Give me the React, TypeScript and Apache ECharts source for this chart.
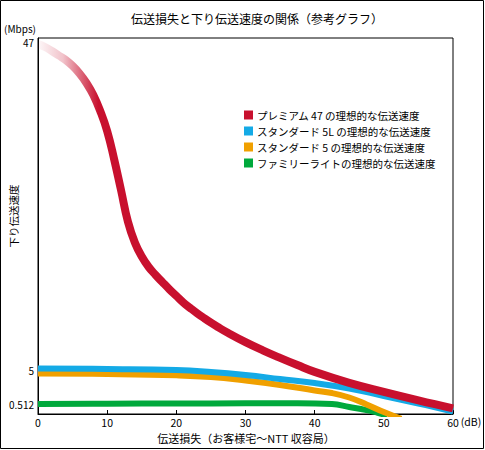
import React, { useEffect, useRef } from "react";
import * as echarts from "echarts";

// ---- data (x: 伝送損失 dB, y: 速度 Mbps) ----
const legendNames = [
  "プレミアム 47 の理想的な伝送速度",
  "スタンダード 5L の理想的な伝送速度",
  "スタンダード 5 の理想的な伝送速度",
  "ファミリーライトの理想的な伝送速度",
];

const xPremium = [0, 1, 2, 3, 4, 5, 6, 7, 8, 9, 10, 11, 12, 13, 14, 15, 16, 17, 18, 19, 20, 21, 22, 23, 24, 25, 26, 27.5, 30, 32.5, 35, 37.5, 40, 45, 50, 55, 60];
const yPremium = [46.74, 46.36, 45.85, 45.27, 44.7, 43.93, 42.97, 41.75, 40.21, 38.16, 35.6, 32.02, 28.05, 24.0, 21.33, 19.53, 18.19, 17.17, 16.24, 15.33, 14.48, 13.64, 12.94, 12.27, 11.65, 11.06, 10.51, 9.74, 8.57, 7.52, 6.55, 5.63, 4.75, 3.3, 2.11, 0.99, 0.29];

const xStd5L = [0, 10, 20, 25, 30, 35, 40, 45, 50, 55, 60];
const yStd5L = [5.19, 5.13, 5.0, 4.74, 4.34, 3.81, 3.28, 2.56, 1.57, 0.58, 0.13];

const xStd5 = [0, 10, 20, 25, 30, 35, 40, 42.5, 45, 47.5, 50, 52.5];
const yStd5 = [4.54, 4.47, 4.3, 4.08, 3.61, 3.02, 2.3, 1.96, 1.37, 0.49, 0.1, -0.25];

const xFamily = [0, 10, 20, 30, 37.5, 42.5, 45, 47.5, 49, 50.5];
const yFamily = [0.51, 0.55, 0.58, 0.6, 0.6, 0.51, 0.36, 0.2, 0.07, -0.08];

const xTicks = [0, 10, 20, 30, 40, 50, 60];
const yTickValues = [0.512, 5, 47];
const yTickLabels = ["0.512", "5", "47"];

const colors = ["#C8102E", "#14AAE6", "#F0A000", "#00A93C"];

// piecewise (non-uniform) vertical scale of the original figure
const SCALE_IN = [0, 0.512, 5, 47];
const SCALE_OUT = [0, 10, 44, 372];
const SCALE_MAX = 376;

function toAxis(v: number): number {
  const n = SCALE_IN.length;
  let i = 0;
  if (v <= SCALE_IN[1]) i = 0;
  else if (v >= SCALE_IN[n - 2]) i = n - 2;
  else {
    for (let k = 0; k < n - 1; k++) {
      if (v >= SCALE_IN[k] && v <= SCALE_IN[k + 1]) {
        i = k;
        break;
      }
    }
  }
  const t = (v - SCALE_IN[i]) / (SCALE_IN[i + 1] - SCALE_IN[i]);
  return SCALE_OUT[i] + t * (SCALE_OUT[i + 1] - SCALE_OUT[i]);
}

const FONT = "'Noto Sans CJK JP', 'Noto Sans', sans-serif";

function pairs(xs: number[], ys: number[]) {
  return xs.map((x, i) => [x, toAxis(ys[i])]);
}

export default function App() {
  const ref = useRef<HTMLDivElement>(null);

  useEffect(() => {
    if (!ref.current) return;
    const chart = echarts.init(ref.current, null, { renderer: "svg" });

    const yCustom = yTickValues.map(toAxis);

    const mk = (idx: number, xs: number[], ys: number[], width: number, color: any) => ({
      name: legendNames[idx],
      type: "line",
      data: pairs(xs, ys),
      smooth: 0.45,
      symbol: "none",
      clip: true,
      itemStyle: { color: colors[idx] },
      lineStyle: { color, width, cap: "butt", join: "round" },
    });

    const redGrad = new echarts.graphic.LinearGradient(0, 0, 1, 0, [
      { offset: 0, color: "rgba(200,16,46,0.03)" },
      { offset: 0.06, color: "rgba(200,16,46,0.25)" },
      { offset: 0.145, color: "rgba(200,16,46,1)" },
      { offset: 1, color: "rgba(200,16,46,1)" },
    ]);

    chart.setOption({
      animation: false,
      backgroundColor: "#fff",
      grid: {
        left: 38,
        top: 38,
        right: 32,
        bottom: 36,
        show: true,
        borderColor: "#000",
        borderWidth: 1,
        backgroundColor: "transparent",
      },
      legend: {
        data: legendNames,
        orient: "vertical",
        left: 239,
        top: 104,
        icon: "rect",
        itemWidth: 9,
        itemHeight: 9,
        itemGap: 4,
        textStyle: { fontSize: 10.5, fontFamily: FONT, color: "#000", lineHeight: 12, padding: [0, 0, 0, -1] },
        selectedMode: false,
      },
      xAxis: {
        type: "value",
        min: xTicks[0],
        max: xTicks[xTicks.length - 1],
        interval: 10,
        axisLine: { show: true, lineStyle: { color: "#000", width: 1 } },
        axisTick: { show: true, inside: true, length: 4, lineStyle: { color: "#000" } },
        axisLabel: { color: "#000", fontSize: 10.5, fontFamily: FONT, margin: 3, lineHeight: 11 },
        splitLine: { show: false },
      },
      yAxis: {
        type: "value",
        min: 0,
        max: SCALE_MAX,
        axisLine: { show: true, lineStyle: { color: "#000", width: 1 } },
        axisTick: { show: false },
        axisLabel: {
          color: "#000",
          fontSize: 10,
          fontFamily: FONT,
          margin: 4,
          lineHeight: 10,
          customValues: yCustom,
          formatter: (val: number) => {
            let best = 0;
            for (let i = 1; i < yCustom.length; i++) {
              if (Math.abs(yCustom[i] - val) < Math.abs(yCustom[best] - val)) best = i;
            }
            return yTickLabels[best];
          },
        },
        splitLine: { show: false },
      },
      series: [
        mk(3, xFamily, yFamily, 6, colors[3]),
        mk(2, xStd5, yStd5, 6, colors[2]),
        mk(1, xStd5L, yStd5L, 6, colors[1]),
        mk(0, xPremium, yPremium, 8, redGrad),
      ],
      graphic: [
        {
          type: "rect",
          shape: { x: 0.5, y: 0.5, width: 483, height: 448 },
          style: { fill: "none", stroke: "#000", lineWidth: 1 },
          silent: true,
        },
        {
          type: "text",
          x: 257,
          y: 18,
          style: {
            text: "伝送損失と下り伝送速度の関係（参考グラフ）",
            fontSize: 12,
            fontFamily: FONT,
            fill: "#000",
            align: "center",
            verticalAlign: "middle",
          },
        },
        {
          type: "text",
          x: 20,
          y: 28.5,
          style: {
            text: "(Mbps)",
            fontSize: 10,
            fontFamily: FONT,
            fill: "#000",
            align: "center",
            verticalAlign: "middle",
          },
        },
        {
          type: "text",
          x: 13,
          y: 216,
          rotation: Math.PI / 2,
          style: {
            text: "下り伝送速度",
            fontSize: 10.5,
            fontFamily: FONT,
            fill: "#000",
            align: "center",
            verticalAlign: "middle",
          },
        },
        {
          type: "text",
          x: 246,
          y: 438,
          style: {
            text: "伝送損失（お客様宅～NTT 収容局）",
            fontSize: 11,
            fontFamily: FONT,
            fill: "#000",
            align: "center",
            verticalAlign: "middle",
          },
        },
        {
          type: "text",
          x: 471,
          y: 421,
          style: {
            text: "(dB)",
            fontSize: 10.5,
            fontFamily: FONT,
            fill: "#000",
            align: "center",
            verticalAlign: "middle",
          },
        },
      ],
    });

    return () => chart.dispose();
  }, []);

  return (
    <div
      ref={ref}
      style={{ position: "fixed", left: 0, top: 0, width: 485, height: 450, background: "#fff" }}
    />
  );
}
